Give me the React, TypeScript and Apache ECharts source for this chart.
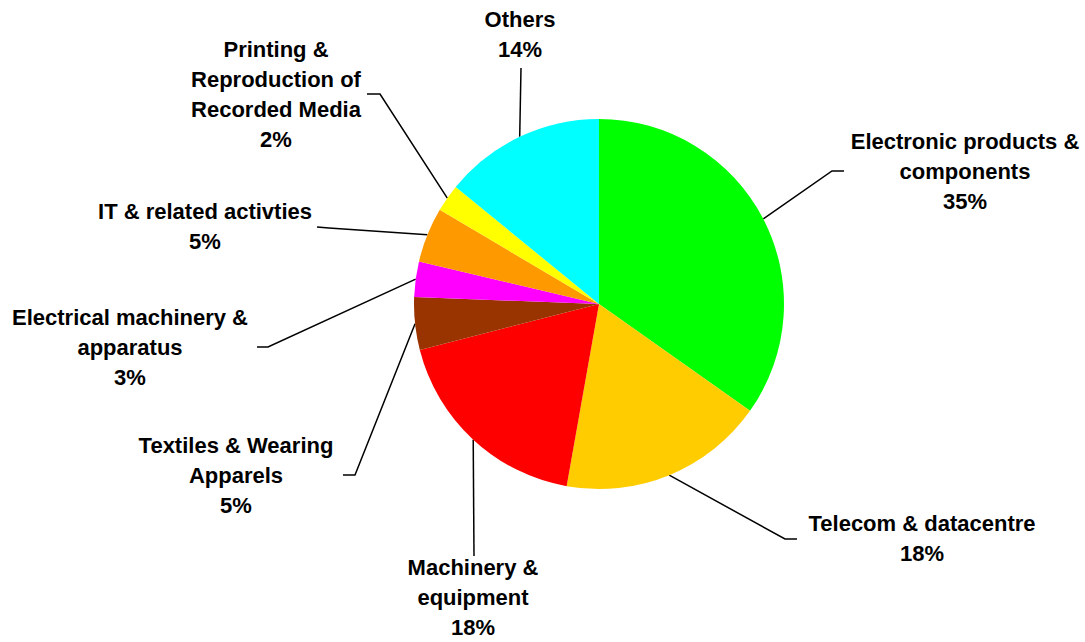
import React, { useEffect, useRef } from "react";
import * as echarts from "echarts";

const categories = [
  "Electronic products &\ncomponents",
  "Telecom & datacentre",
  "Machinery &\nequipment",
  "Textiles & Wearing\nApparels",
  "Electrical machinery &\napparatus",
  "IT & related activties",
  "Printing &\nReproduction of\nRecorded Media",
  "Others",
];
const shares = [34.8, 18.0, 18.2, 4.6, 3.1, 4.8, 2.4, 14.1];
const colors = ["#00FF00", "#FFCC00", "#FF0000", "#993300", "#FF00FF", "#FF9900", "#FFFF00", "#00FFFF"];

// label block centres and leader-line bend points (layout only)
const labelCenters: [number, number][] = [
  [965, 171],
  [922, 538],
  [473, 597],
  [236, 475],
  [130, 347],
  [205, 226],
  [276, 94],
  [520, 34],
];
const leaderBends: [number, number][][] = [
  [[832, 171], [844, 171]],
  [[785, 539], [797, 539]],
  [[474, 556]],
  [[355, 475], [343, 475]],
  [[268, 347], [257, 347]],
  [[329, 228], [317, 227]],
  [[380, 94], [367, 94]],
  [[521, 68]],
];

export default function App() {
  const ref = useRef<HTMLDivElement>(null);
  useEffect(() => {
    document.body.style.margin = "0";
    const chart = echarts.init(ref.current!, undefined, { renderer: "svg" });
    chart.setOption({
      animation: false,
      backgroundColor: "#ffffff",
      series: [
        {
          type: "pie",
          center: [599, 304],
          radius: [0, 185],
          startAngle: 90,
          clockwise: true,
          avoidLabelOverlap: false,
          data: categories.map((name, i) => ({
            name,
            value: shares[i],
            itemStyle: { color: colors[i] },
          })),
          itemStyle: { borderWidth: 0 },
          label: {
            show: true,
            position: "outside",
            color: "#000000",
            fontFamily: "Liberation Sans, Arial, sans-serif",
            fontWeight: "bold",
            fontSize: 22,
            lineHeight: 30,
            align: "center",
            formatter: (p: any) => `${p.name}\n${Math.round(p.percent)}%`,
          },
          labelLine: {
            show: true,
            length: 20,
            length2: 10,
            lineStyle: { color: "#000000", width: 1.5 },
          },
          labelLayout: (params: any) => {
            const i = params.dataIndex;
            const start = params.labelLinePoints && params.labelLinePoints[0];
            const pts = start ? [start, ...leaderBends[i]] : undefined;
            const res: any = {
              x: labelCenters[i][0],
              y: labelCenters[i][1],
              align: "center",
              verticalAlign: "middle",
            };
            if (pts) res.labelLinePoints = pts;
            return res;
          },
        },
      ],
    });
    return () => chart.dispose();
  }, []);
  return <div ref={ref} style={{ width: 1085, height: 642 }} />;
}
